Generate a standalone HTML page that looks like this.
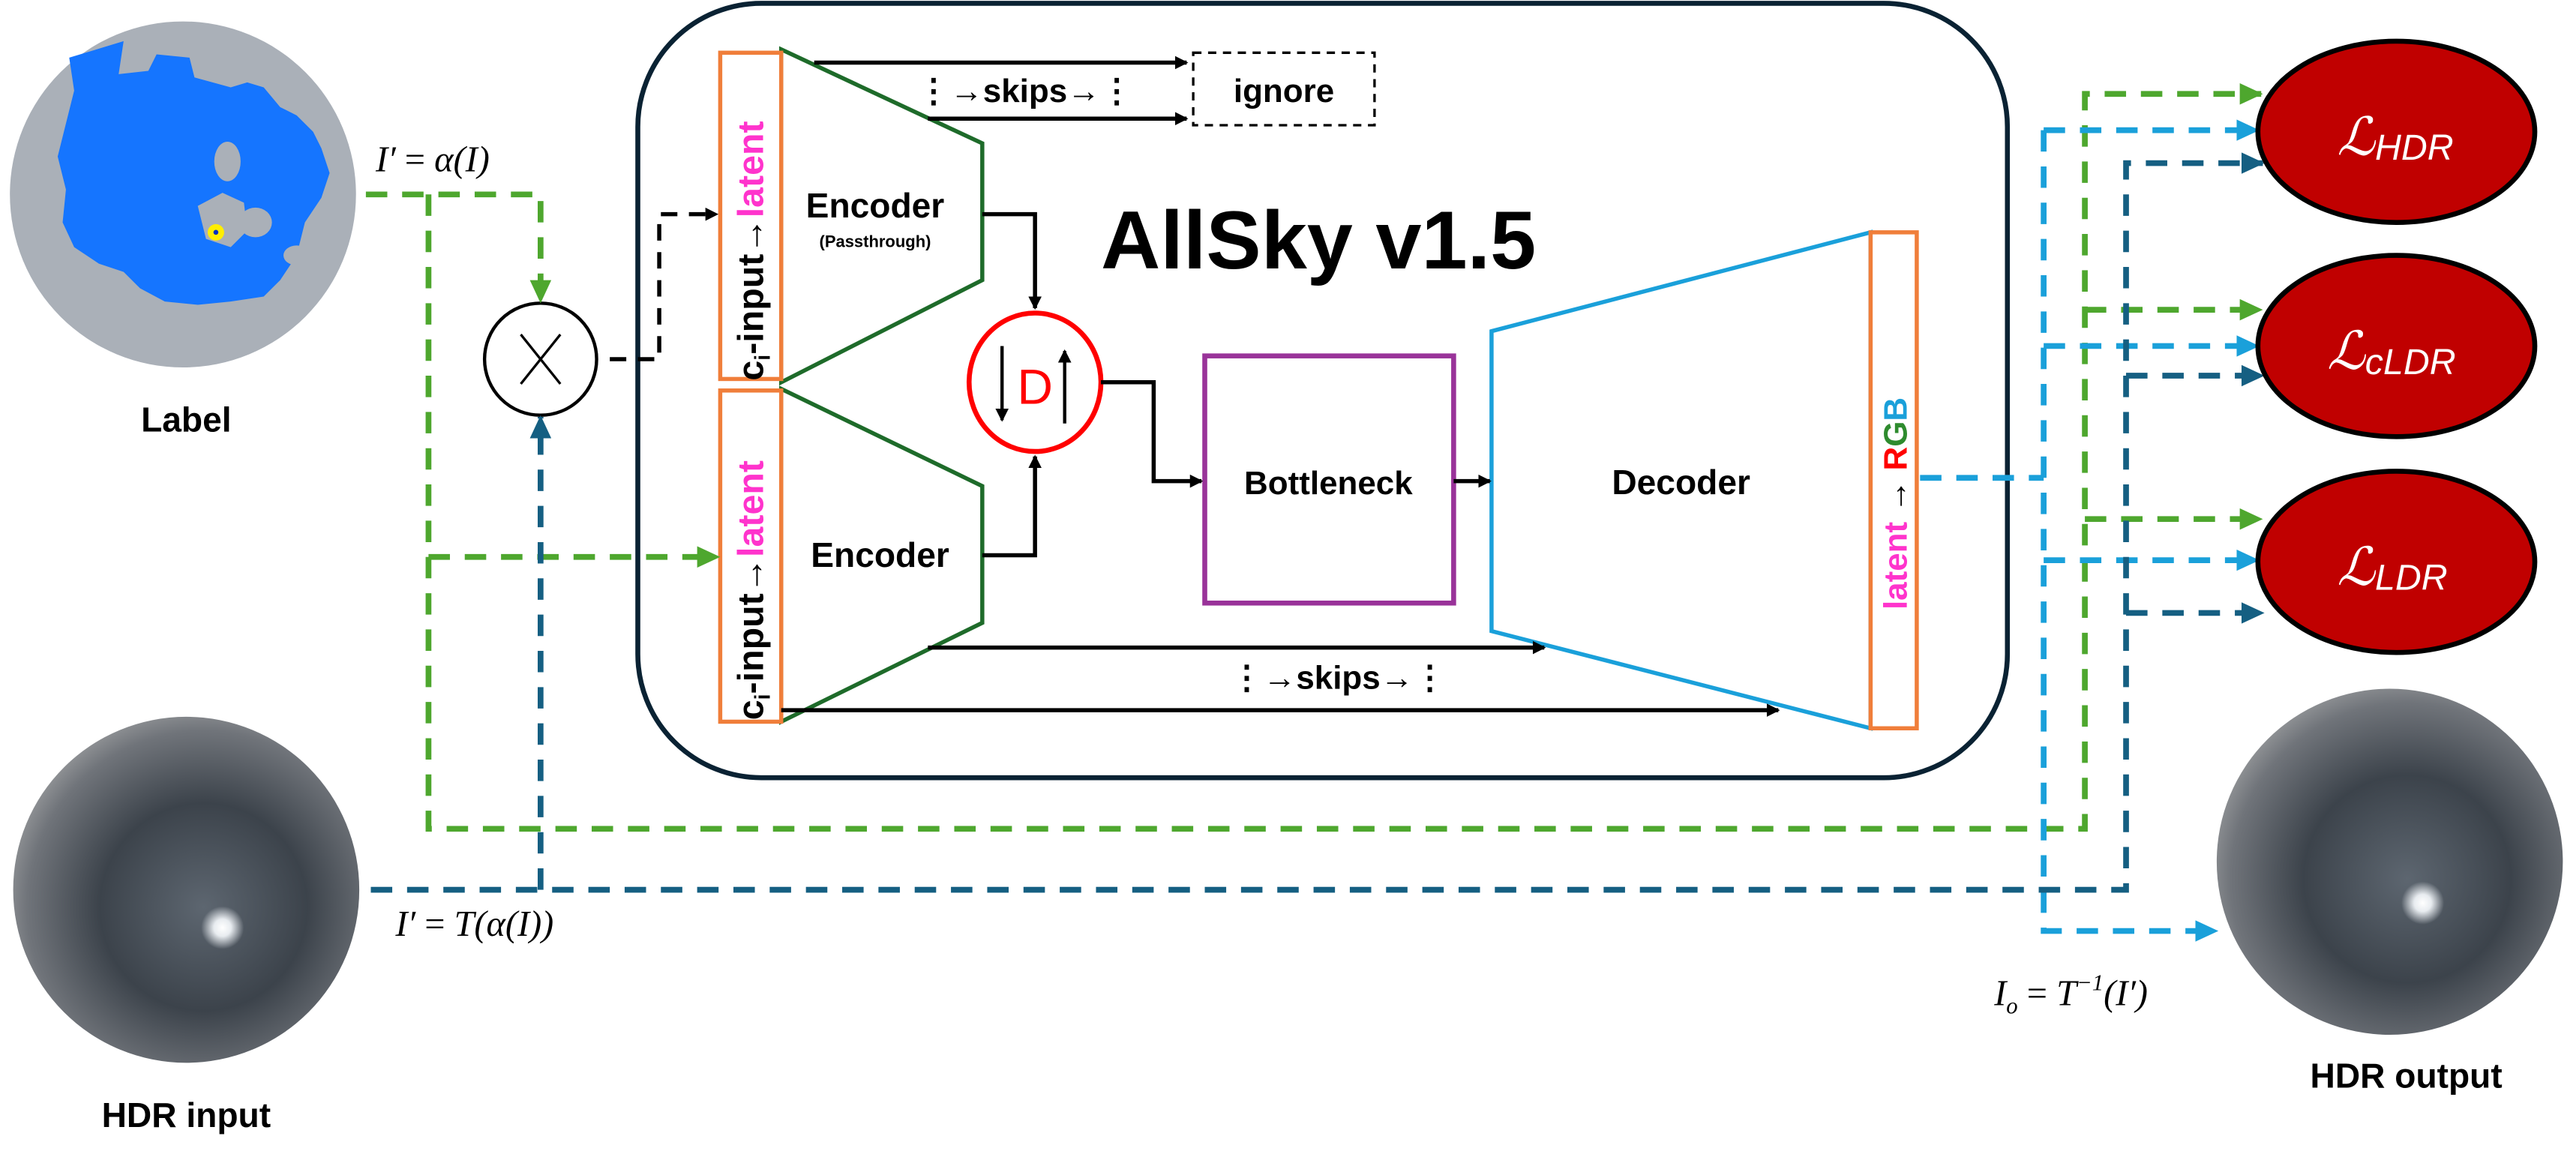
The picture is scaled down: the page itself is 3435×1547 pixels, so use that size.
<!DOCTYPE html>
<html><head><meta charset="utf-8"><style>
html,body{margin:0;padding:0;background:#fff;}
svg{display:block;}
text{font-family:"Liberation Sans",sans-serif;}
.b{font-weight:bold;}
.m{font-family:"Liberation Serif",serif;font-style:italic;}
</style></head><body>
<svg width="3435" height="1547" viewBox="0 0 1563 704" preserveAspectRatio="none" xmlns="http://www.w3.org/2000/svg">
<defs>
<marker id="ak" markerWidth="8" markerHeight="8" refX="7" refY="4" orient="auto" markerUnits="userSpaceOnUse"><path d="M0,0L8,4L0,8z" fill="#000"/></marker>
<marker id="ag" markerWidth="14" markerHeight="13" refX="13" refY="6.5" orient="auto" markerUnits="userSpaceOnUse"><path d="M0,0L14,6.5L0,13z" fill="#4ea72e"/></marker>
<marker id="al" markerWidth="14" markerHeight="13" refX="13" refY="6.5" orient="auto" markerUnits="userSpaceOnUse"><path d="M0,0L14,6.5L0,13z" fill="#1aa0da"/></marker>
<marker id="ad" markerWidth="14" markerHeight="13" refX="13" refY="6.5" orient="auto" markerUnits="userSpaceOnUse"><path d="M0,0L14,6.5L0,13z" fill="#155f82"/></marker>
<radialGradient id="sky" cx="0.55" cy="0.55" r="0.6">
<stop offset="0" stop-color="#5d6670"/><stop offset="0.5" stop-color="#3c434b"/><stop offset="0.85" stop-color="#70747a"/><stop offset="1" stop-color="#9a9c9e"/></radialGradient>
<radialGradient id="sun"><stop offset="0" stop-color="#fff"/><stop offset="0.4" stop-color="#e8ecf0"/><stop offset="1" stop-color="#e8ecf0" stop-opacity="0"/></radialGradient>
</defs>

<!-- Label disc -->
<ellipse cx="111" cy="118" rx="105" ry="105" fill="#aab0b8"/>
<path d="M42,35 L75,25 L72,45 L90,43 L95,33 L115,35 L118,47 L140,53 L150,50 L160,53 L170,65 L180,70 L190,80 L195,90 L200,105 L195,120 L185,135 L180,155 L170,170 L160,180 L140,183 L120,185 L100,183 L85,175 L75,165 L60,160 L45,150 L38,135 L40,115 L35,95 L40,75 L45,55 Z" fill="#1575ff"/>
<ellipse cx="138" cy="98" rx="8" ry="12" fill="#aab0b8"/>
<path d="M120,125 L135,117 L148,123 L150,140 L140,150 L125,145 Z" fill="#aab0b8"/>
<ellipse cx="155" cy="135" rx="10" ry="9" fill="#aab0b8"/>
<ellipse cx="180" cy="155" rx="8" ry="6" fill="#aab0b8"/>
<circle cx="131" cy="141" r="5" fill="#ffee00"/><circle cx="131" cy="141" r="1.5" fill="#0030c0"/>
<text x="113" y="262" class="b" font-size="21" text-anchor="middle">Label</text>

<!-- HDR discs -->
<circle cx="113" cy="540" r="105" fill="url(#sky)"/>
<circle cx="135" cy="563" r="13" fill="url(#sun)"/>
<text x="113" y="684" class="b" font-size="21" text-anchor="middle">HDR input</text>
<circle cx="1450" cy="523" r="105" fill="url(#sky)"/>
<circle cx="1470" cy="548" r="13" fill="url(#sun)"/>
<text x="1460" y="660" class="b" font-size="21" text-anchor="middle">HDR output</text>

<!-- main box -->
<rect x="387" y="2" width="831" height="470" rx="75" ry="75" fill="#fff" stroke="#0a2233" stroke-width="3"/>
<text x="800" y="163" class="b" font-size="50" text-anchor="middle">AllSky v1.5</text>

<!-- encoders -->
<polygon points="474,30 596,87 596,170 474,232" fill="#fff" stroke="#1e6b2a" stroke-width="2.5"/>
<polygon points="474,236 596,295 596,378 474,438" fill="#fff" stroke="#1e6b2a" stroke-width="2.5"/>
<rect x="437" y="32" width="37" height="198" fill="#fff" stroke="#f07e3a" stroke-width="2.5"/>
<rect x="437" y="237" width="37" height="201" fill="#fff" stroke="#f07e3a" stroke-width="2.5"/>
<text transform="translate(463,231) rotate(-90)" class="b" font-size="22">c<tspan font-size="13" dy="4">i</tspan><tspan dy="-4">-input→</tspan><tspan fill="#ff33cc">latent</tspan></text>
<text transform="translate(463,437) rotate(-90)" class="b" font-size="22">c<tspan font-size="13" dy="4">i</tspan><tspan dy="-4">-input→</tspan><tspan fill="#ff33cc">latent</tspan></text>
<text x="531" y="132" class="b" font-size="21" text-anchor="middle">Encoder</text>
<text x="531" y="150" class="b" font-size="10" text-anchor="middle">(Passthrough)</text>
<text x="534" y="344" class="b" font-size="21" text-anchor="middle">Encoder</text>

<!-- D circle -->
<ellipse cx="628" cy="232" rx="40" ry="42" fill="#fff" stroke="#ff0000" stroke-width="3"/>
<text x="628" y="245" font-size="30" fill="#ff0000" text-anchor="middle">D</text>
<line x1="608" y1="210" x2="608" y2="255" stroke="#000" stroke-width="2" marker-end="url(#ak)"/>
<line x1="646" y1="257" x2="646" y2="213" stroke="#000" stroke-width="2" marker-end="url(#ak)"/>

<!-- bottleneck -->
<rect x="731" y="216" width="151" height="150" fill="#fff" stroke="#993399" stroke-width="3"/>
<text x="806" y="300" class="b" font-size="20" text-anchor="middle">Bottleneck</text>

<!-- decoder -->
<polygon points="905,201 1135,141 1135,442 905,383" fill="#fff" stroke="#1aa0da" stroke-width="2.5"/>
<rect x="1135" y="141" width="28" height="301" fill="#fff" stroke="#f07e3a" stroke-width="2.5"/>
<text transform="translate(1157,370) rotate(-90)" class="b" font-size="20"><tspan fill="#ff33cc">latent</tspan> → <tspan fill="#ff0000">R</tspan><tspan fill="#2e8b2e">G</tspan><tspan fill="#1aa0da">B</tspan></text>
<text x="1020" y="300" class="b" font-size="21" text-anchor="middle">Decoder</text>

<!-- skips -->
<g stroke="#000" stroke-width="2.5" fill="none">
<line x1="494" y1="38" x2="720" y2="38" marker-end="url(#ak)"/>
<line x1="563" y1="72" x2="720" y2="72" marker-end="url(#ak)"/>
<line x1="563" y1="393" x2="937" y2="393" marker-end="url(#ak)"/>
<line x1="474" y1="431" x2="1079" y2="431" marker-end="url(#ak)"/>
<polyline points="596,130 628,130 628,187" marker-end="url(#ak)"/>
<polyline points="596,337 628,337 628,277" marker-end="url(#ak)"/>
<polyline points="668,232 700,232 700,292 729,292" marker-end="url(#ak)"/>
<line x1="882" y1="292" x2="904" y2="292" marker-end="url(#ak)"/>
</g>
<text x="622" y="62" class="b" font-size="20" text-anchor="middle">⋮→skips→⋮</text>
<text x="812" y="418" class="b" font-size="20" text-anchor="middle">⋮→skips→⋮</text>
<rect x="724" y="32" width="110" height="44" fill="#fff" stroke="#000" stroke-width="1.5" stroke-dasharray="5,4"/>
<text x="779" y="62" class="b" font-size="20" text-anchor="middle">ignore</text>

<!-- multiply -->
<circle cx="328" cy="218" r="34" fill="#fff" stroke="#000" stroke-width="2"/>
<path d="M316,203 L340,233 M340,203 L316,233" stroke="#000" stroke-width="1.5"/>
<polyline points="370,218 400,218 400,130 435,130" fill="none" stroke="#000" stroke-width="2.5" stroke-dasharray="10,7" marker-end="url(#ak)"/>

<!-- green dashed -->
<g fill="none" stroke="#4ea72e" stroke-width="3.5" stroke-dasharray="13,9">
<polyline points="222,118 328,118 328,183" marker-end="url(#ag)"/>
<polyline points="260,118 260,503 1265,503 1265,57 1372,57" marker-end="url(#ag)"/>
<polyline points="260,338 436,338" marker-end="url(#ag)"/>
<polyline points="1265,188 1372,188" marker-end="url(#ag)"/>
<polyline points="1265,315 1372,315" marker-end="url(#ag)"/>
</g>
<!-- light blue -->
<g fill="none" stroke="#1aa0da" stroke-width="3.5" stroke-dasharray="13,9">
<polyline points="1165,290 1240,290"/>
<polyline points="1240,79 1240,565 1345,565" marker-end="url(#al)"/>
<polyline points="1240,79 1370,79" marker-end="url(#al)"/>
<polyline points="1240,210 1370,210" marker-end="url(#al)"/>
<polyline points="1240,340 1370,340" marker-end="url(#al)"/>
</g>
<!-- dark blue -->
<g fill="none" stroke="#155f82" stroke-width="3.5" stroke-dasharray="13,9">
<polyline points="225,540 1290,540 1290,99 1373,99" marker-end="url(#ad)"/>
<polyline points="328,540 328,253" marker-end="url(#ad)"/>
<polyline points="1290,228 1373,228" marker-end="url(#ad)"/>
<polyline points="1290,372 1373,372" marker-end="url(#ad)"/>
</g>

<!-- loss circles -->
<g fill="#c00000" stroke="#000" stroke-width="3">
<ellipse cx="1454" cy="80" rx="84" ry="55"/>
<ellipse cx="1454" cy="210" rx="84" ry="55"/>
<ellipse cx="1454" cy="341" rx="84" ry="55"/>
</g>
<g fill="#fff" font-size="32">
<text x="1418" y="94" class="m">ℒ<tspan font-family="Liberation Sans" font-size="22" dy="3">HDR</tspan></text>
<text x="1412" y="224" class="m">ℒ<tspan font-family="Liberation Sans" font-size="22" dy="3">cLDR</tspan></text>
<text x="1418" y="355" class="m">ℒ<tspan font-family="Liberation Sans" font-size="22" dy="3">LDR</tspan></text>
</g>

<!-- formulas -->
<text x="228" y="104" class="m" font-size="22">I′ <tspan font-style="normal">=</tspan> α(I)</text>
<text x="240" y="568" class="m" font-size="22">I′ <tspan font-style="normal">=</tspan> T(α(I))</text>
<text x="1210" y="610" class="m" font-size="22">I<tspan font-size="14" dy="5">o</tspan><tspan dy="-5"> <tspan font-style="normal">=</tspan> T</tspan><tspan font-size="14" dy="-9">−1</tspan><tspan dy="9">(I′)</tspan></text>
</svg>
</body></html>
